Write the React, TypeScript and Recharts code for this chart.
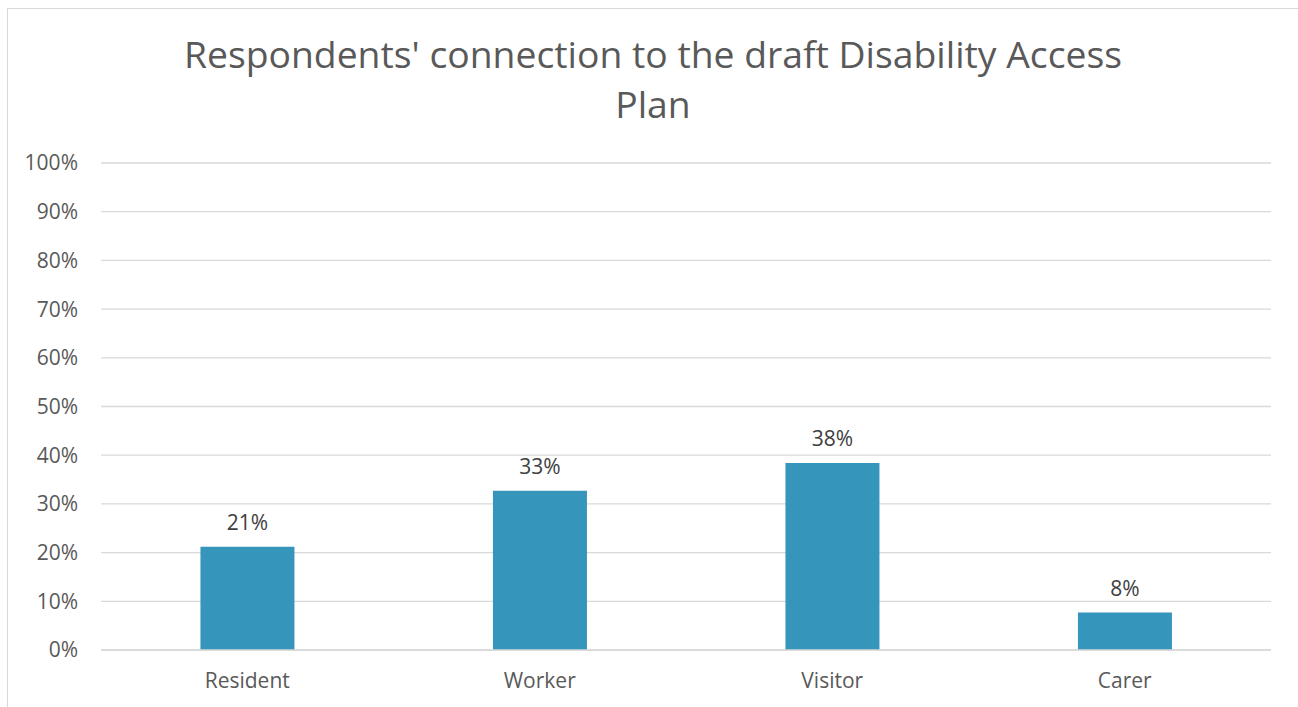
import React from 'react';
import { BarChart, Bar, XAxis, YAxis, CartesianGrid, LabelList } from 'recharts';

const categories = ['Resident', 'Worker', 'Visitor', 'Carer'];
const shares = [21.2, 32.7, 38.4, 7.7];
const yTicks = [0, 10, 20, 30, 40, 50, 60, 70, 80, 90, 100];
const titleLines = ["Respondents' connection to the draft Disability Access", 'Plan'];

const data = categories.map((c, i) => ({ name: c, value: shares[i] }));

const FONT = "'Open Sans', sans-serif";

export default function App() {
  return (
    <div
      style={{
        position: 'absolute',
        left: 7,
        top: 8,
        width: 1291,
        height: 699,
        borderLeft: '1px solid #d9d9d9',
        borderTop: '1px solid #d9d9d9',
        background: '#fff',
        overflow: 'hidden',
        fontFamily: FONT,
      }}
    >
      <div
        style={{
          position: 'absolute',
          left: 0,
          top: 20,
          width: 1290,
          textAlign: 'center',
          color: '#595959',
          fontSize: 37.3,
          lineHeight: '50px',
        }}
      >
        {titleLines.map((l) => (
          <div key={l}>{l}</div>
        ))}
      </div>
      <BarChart
        width={1290}
        height={698}
        data={data}
        margin={{ top: 154, right: 27, bottom: 0, left: 0 }}
        barCategoryGap="34%"
      >
        <CartesianGrid vertical={false} stroke="#d9d9d9" strokeWidth={1.3} />
        <XAxis
          dataKey="name"
          height={57}
          tickLine={false}
          axisLine={{ stroke: '#d9d9d9', strokeWidth: 1.3 }}
          tickSize={0}
          tickMargin={23}
          tick={{ fill: '#595959', fontSize: 21, fontFamily: FONT }}
        />
        <YAxis
          width={93}
          domain={[0, 100]}
          ticks={yTicks}
          interval={0}
          tickFormatter={(v: number) => `${v}%`}
          tickLine={false}
          axisLine={false}
          tickSize={0}
          tickMargin={23}
          tick={{ fill: '#595959', fontSize: 21, fontFamily: FONT }}
        />
        <Bar dataKey="value" fill="#3595BA" isAnimationActive={false}>
          <LabelList
            dataKey="value"
            position="top"
            offset={17}
            formatter={(v: number) => `${Math.round(v)}%`}
            style={{ fill: '#404040', fontSize: 21, fontFamily: FONT }}
          />
        </Bar>
      </BarChart>
    </div>
  );
}
